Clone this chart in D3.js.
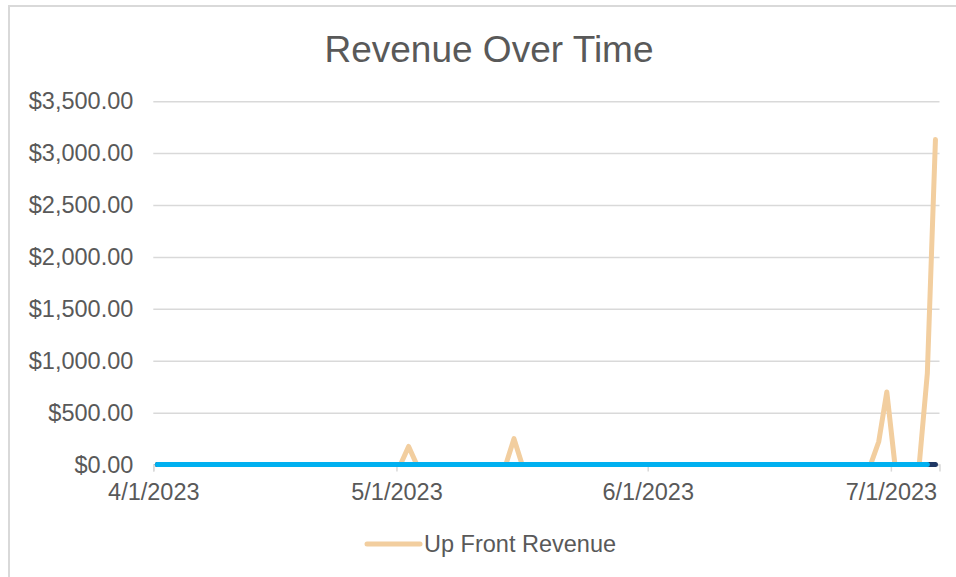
<!DOCTYPE html>
<html>
<head>
<meta charset="utf-8">
<title>Revenue Over Time</title>
<style>
  body { margin: 0; background: #fff; }
  svg { display: block; font-family: "Liberation Sans", Arial, sans-serif; }
</style>
</head>
<body>
<svg width="956" height="577"></svg>
<script src="https://cdn.jsdelivr.net/npm/d3@7"></script>
<script>
// data (only the turning points, flat stretches are straight lines)
const upFrontDates  = ["2023-04-01","2023-05-01","2023-05-02","2023-05-03","2023-05-14","2023-05-15","2023-05-16",
                       "2023-06-28","2023-06-29","2023-06-30","2023-07-01","2023-07-04","2023-07-05","2023-07-06"];
const upFrontValues = [0, 0, 175, 0, 0, 250, 0, 0, 220, 700, 0, 0, 880, 3130];

const blueDates  = ["2023-04-01", "2023-07-05"];
const blueValues = [0, 0];
const darkDates  = ["2023-04-01", "2023-07-06"];
const darkValues = [0, 0];

const axisStart = "2023-04-01";
const axisEnd   = "2023-07-07";
const xTickDates = ["2023-04-01","2023-05-01","2023-06-01","2023-07-01"];
const yTicks = [0, 500, 1000, 1500, 2000, 2500, 3000, 3500];

const textColor = "#595959";
const gridColor = "#d9d9d9";
const orange = "#f2ce9f";
const blue = "#00b0f0";
const navy = "#1f3864";

const parse = d3.utcParse("%Y-%m-%d");
const halfDay = 12 * 3600 * 1000;

const svg = d3.select("svg");

// chart frame
svg.append("rect")
  .attr("x", 9).attr("y", 6)
  .attr("width", 1200).attr("height", 1200)
  .attr("fill", "none")
  .attr("stroke", gridColor)
  .attr("stroke-width", 2);

const x = d3.scaleUtc()
  .domain([parse(axisStart), parse(axisEnd)])
  .range([153.3, 939.5]);

const y = d3.scaleLinear()
  .domain([0, 3500])
  .range([464.6, 101.2]);

// y axis + gridlines
const yAxis = svg.append("g")
  .attr("transform", `translate(${x.range()[0]},0)`)
  .call(d3.axisLeft(y)
    .tickValues(yTicks)
    .tickFormat(d3.format("$,.2f"))
    .tickSize(-(x.range()[1] - x.range()[0]))
    .tickPadding(20));
yAxis.select(".domain").remove();
yAxis.selectAll(".tick line").attr("stroke", gridColor).attr("stroke-width", 1.5);
yAxis.selectAll(".tick text")
  .attr("fill", textColor)
  .style("font-size", "23.5px");

// x axis
const xAxis = svg.append("g")
  .attr("transform", `translate(0,${y(0)})`)
  .call(d3.axisBottom(x)
    .tickValues(xTickDates.map(parse))
    .tickFormat(d3.utcFormat("%-m/%-d/%Y"))
    .tickSizeOuter(0)
    .tickSize(7)
    .tickPadding(12));
xAxis.select(".domain").attr("stroke", gridColor).attr("stroke-width", 1.5);
xAxis.selectAll(".tick line").attr("stroke", gridColor).attr("stroke-width", 1.5);
xAxis.selectAll(".tick text")
  .attr("fill", textColor)
  .style("font-size", "23.5px");

// series
const line = d3.line()
  .x(d => x(new Date(d.date.getTime() + halfDay)))
  .y(d => y(d.value));

function series(dates, values) {
  return dates.map((d, i) => ({ date: parse(d), value: values[i] }));
}

function drawLine(data, color) {
  svg.append("path")
    .datum(data)
    .attr("d", line)
    .attr("fill", "none")
    .attr("stroke", color)
    .attr("stroke-width", 5)
    .attr("stroke-linejoin", "round")
    .attr("stroke-linecap", "round");
}

drawLine(series(upFrontDates, upFrontValues), orange);
drawLine(series(darkDates, darkValues), navy);
drawLine(series(blueDates, blueValues), blue);

// title
svg.append("text")
  .attr("x", 489).attr("y", 62)
  .attr("text-anchor", "middle")
  .attr("fill", textColor)
  .style("font-size", "37px")
  .text("Revenue Over Time");

// legend
const legend = svg.append("g");
legend.append("line")
  .attr("x1", 367).attr("x2", 420)
  .attr("y1", 544).attr("y2", 544)
  .attr("stroke", orange)
  .attr("stroke-width", 5)
  .attr("stroke-linecap", "round");
legend.append("text")
  .attr("x", 424).attr("y", 544)
  .attr("dy", "0.35em")
  .attr("fill", textColor)
  .style("font-size", "23.5px")
  .text("Up Front Revenue");
</script>
</body>
</html>
